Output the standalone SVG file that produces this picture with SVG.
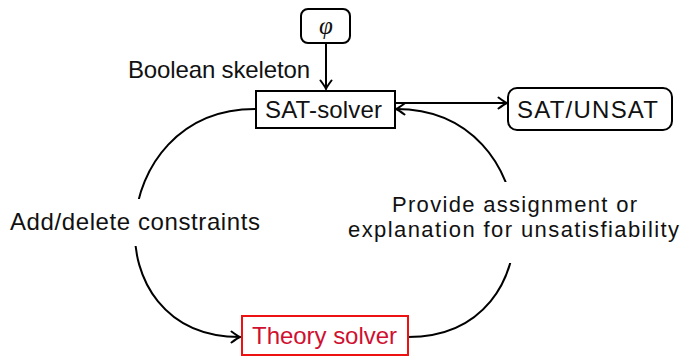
<svg xmlns="http://www.w3.org/2000/svg" width="681" height="357" viewBox="0 0 681 357">
<defs>
<style>
text{font-family:"Liberation Sans","DejaVu Sans",sans-serif;font-size:24px;fill:#111;}
.two{font-size:22px;}
.box{fill:#fff;stroke:#000;stroke-width:2;}
.red{fill:#fff;stroke:#ee1111;stroke-width:2;}
.edge{fill:none;stroke:#000;stroke-width:2;}
.lbl{fill:#fff;stroke:none;}
</style>
<marker id="arr" viewBox="-10 -7 12 14" refX="0" refY="0" markerWidth="12" markerHeight="14" markerUnits="userSpaceOnUse" orient="auto">
<path d="M-8.5,-5.5 Q-2.5,-1 0,0 Q-2.5,1 -8.5,5.5" fill="none" stroke="#000" stroke-width="2" stroke-linecap="round"/>
</marker>
</defs>
<g id="connectors">
<path class="edge" d="M326,43 L326,89" marker-end="url(#arr)"/>
<path class="edge" d="M395,103 L507,103" marker-end="url(#arr)"/>
<path class="edge" d="M255,109 C105,109 90,337 240,337" marker-end="url(#arr)"/>
<path class="edge" d="M408,337 C558,337 546,109 396,109" marker-end="url(#arr)"/>
<rect class="lbl" x="6" y="199" width="258" height="47"/>
<rect class="lbl" x="345" y="182" width="336" height="81"/>
<text x="128" y="78" textLength="182" lengthAdjust="spacing">Boolean skeleton</text>
<text x="10" y="230" textLength="250" lengthAdjust="spacing">Add/delete constraints</text>
<text class="two" x="392" y="212" textLength="245" lengthAdjust="spacing">Provide assignment or</text>
<text class="two" x="348" y="237" textLength="331" lengthAdjust="spacing">explanation for unsatisfiability</text>
</g>
<g id="phi">
<rect class="box" x="301" y="9" width="49" height="34" rx="7"/>
<text x="326" y="34" text-anchor="middle" style="font-family:'Liberation Serif',serif;font-style:italic;font-size:25px">φ</text>
</g>
<g id="sat-solver">
<rect class="box" x="256" y="91" width="139" height="37"/>
<text x="265" y="118" textLength="117" lengthAdjust="spacing">SAT-solver</text>
</g>
<g id="sat-unsat">
<rect class="box" x="508" y="88" width="164" height="42" rx="9"/>
<text x="517" y="118" textLength="141" lengthAdjust="spacing">SAT/UNSAT</text>
</g>
<g id="theory-solver">
<rect class="red" x="242" y="316" width="166" height="39"/>
<text x="252" y="344" textLength="145" lengthAdjust="spacing" style="fill:#d01030">Theory solver</text>
</g>
</svg>
